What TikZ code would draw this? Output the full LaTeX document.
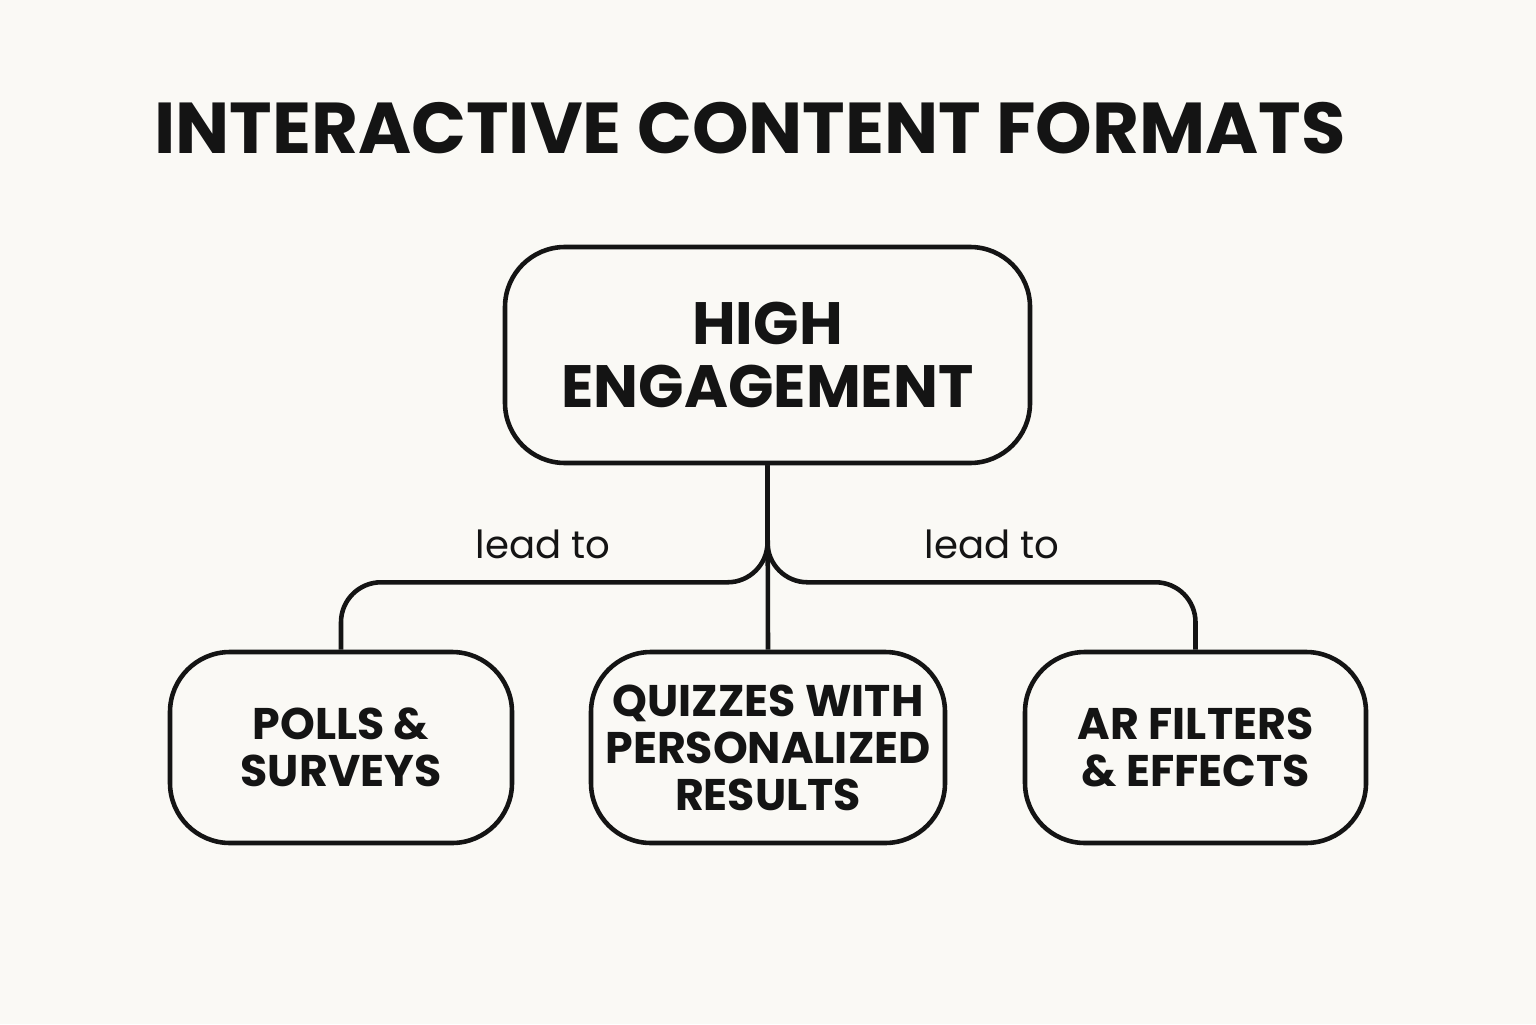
\documentclass[tikz,border=0pt]{standalone}
\usepackage{fontspec}
\setmainfont{Poppins}
\usetikzlibrary{positioning}
\definecolor{paper}{HTML}{FAF9F5}
\definecolor{ink}{HTML}{141414}

\begin{document}
\begin{tikzpicture}[x=1cm, y=1cm, line width=1.3pt, draw=ink, text=ink,
	box/.style = {draw, rounded corners=0.6cm, align=center, inner sep=2pt, font=\bfseries\fontsize{12.6}{13.4}\selectfont},
	leadlabel/.style = {font=\fontsize{11}{13}\selectfont}]
	\fill[paper] (0, 0) rectangle (15.36, 10.24);
	\useasboundingbox (0, 0) rectangle (15.36, 10.24);

	\node[font=\bfseries\fontsize{20.5}{24}\selectfont] (title) at (7.5, 8.96) {INTERACTIVE CONTENT FORMATS};

	\node[box, minimum width=5.25cm, minimum height=2.16cm, font=\bfseries\fontsize{17}{18}\selectfont] (high) at (7.675, 6.69) {HIGH\\ENGAGEMENT};

	\node[box, minimum width=3.42cm, minimum height=1.91cm] (polls) at (3.41, 2.765) {POLLS \&\\SURVEYS};
	\node[box, minimum width=3.54cm, minimum height=1.91cm] (quiz) at (7.68, 2.765) {QUIZZES WITH\\PERSONALIZED\\RESULTS};
	\node[box, minimum width=3.41cm, minimum height=1.91cm] (arfx) at (11.955, 2.765) {AR FILTERS\\\& EFFECTS};

	\draw (high.south) -- (quiz.north);
	\draw[rounded corners=0.4cm] (high.south) -- ++(0, -1.17) -| (polls.north);
	\draw[rounded corners=0.4cm] (high.south) -- ++(0, -1.17) -| (arfx.north);

	\node[leadlabel] (leadl) at (5.43, 4.80) {lead to};
	\node[leadlabel] (leadr) at (9.92, 4.80) {lead to};
\end{tikzpicture}
\end{document}
